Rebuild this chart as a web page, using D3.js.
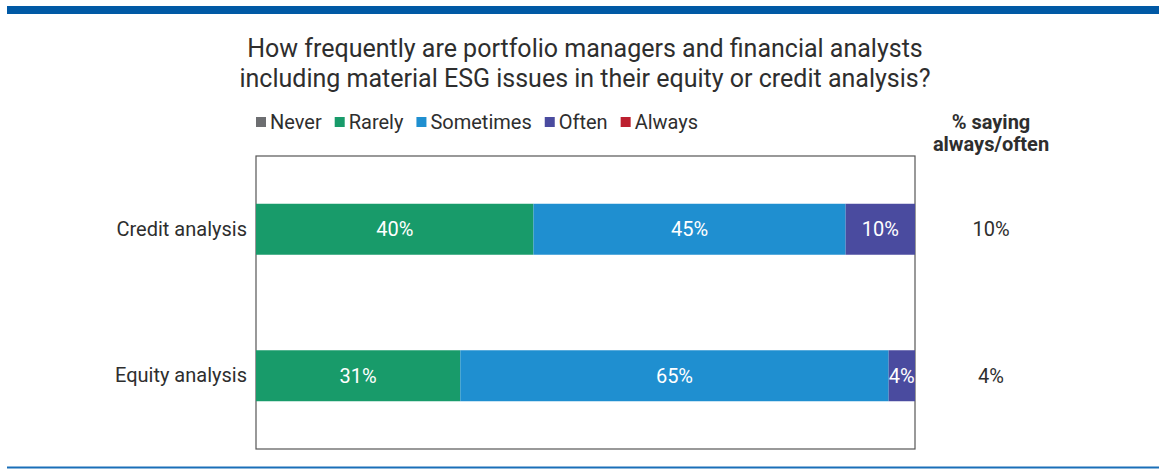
<!DOCTYPE html>
<html lang="en">
<head>
<meta charset="UTF-8">
<title>ESG issues in equity or credit analysis</title>
<script src="https://d3js.org/d3.v7.min.js"></script>
<style>
  body { margin: 0; padding: 0; background: #fff; }
  svg { display: block; font-family: Roboto, "DejaVu Sans", sans-serif; }
</style>
</head>
<body>
<svg width="1159" height="469"></svg>
<script>
const width = 1159, height = 469;

// data
const categories = ["Credit analysis", "Equity analysis"];
const seriesNames = ["Never", "Rarely", "Sometimes", "Often", "Always"];
const never = [0, 0];
const rarely = [40, 31];
const sometimes = [45, 65];
const often = [10, 4];
const always = [0, 0];
const colors = ["#6d6e71", "#189b6a", "#1f8fd0", "#4a4b9f", "#bc1f2f"];
const titleLines = [
  "How frequently are portfolio managers and financial analysts",
  "including material ESG issues in their equity or credit analysis?"
];
const sideHeader = ["% saying", "always/often"];

const rows = categories.map((c, i) => ({
  category: c,
  Never: never[i], Rarely: rarely[i], Sometimes: sometimes[i],
  Often: often[i], Always: always[i]
}));

const svg = d3.select("svg");
const textColor = "#2e2e2e";

// blue rules top and bottom
svg.append("rect").attr("x", 7).attr("y", 6).attr("width", width - 7).attr("height", 8).attr("fill", "#0059a5");
svg.append("rect").attr("x", 7).attr("y", 466.5).attr("width", width - 7).attr("height", 2).attr("fill", "#1a6fb8");

// title
svg.append("text")
  .attr("text-anchor", "middle")
  .attr("fill", textColor)
  .style("font-size", "25px")
  .selectAll("tspan")
  .data(titleLines)
  .enter().append("tspan")
  .attr("x", 585)
  .attr("y", (d, i) => 57 + i * 30)
  .text(d => d);

const plot = { left: 256, right: 915, top: 156, bottom: 449 };

const x = d3.scaleLinear().domain([0, 1]).range([plot.left, plot.right]);
const y = d3.scaleBand().domain(categories)
  .range([plot.top, plot.bottom])
  .paddingInner(0.652).paddingOuter(0.326);
const color = d3.scaleOrdinal().domain(seriesNames).range(colors);

// each bar fills the full width
const stacked = d3.stack().keys(seriesNames).offset(d3.stackOffsetExpand)(rows);

// plot frame
svg.append("rect")
  .attr("x", plot.left).attr("y", plot.top)
  .attr("width", plot.right - plot.left).attr("height", plot.bottom - plot.top)
  .attr("fill", "none").attr("stroke", "#555").attr("stroke-width", 1.2);

const layer = svg.selectAll("g.layer")
  .data(stacked)
  .enter().append("g")
  .attr("class", "layer")
  .attr("fill", d => color(d.key));

layer.selectAll("rect")
  .data(d => d.map(v => Object.assign(v, { key: d.key })))
  .enter().append("rect")
  .attr("x", d => x(d[0]))
  .attr("y", d => y(d.data.category))
  .attr("width", d => x(d[1]) - x(d[0]))
  .attr("height", y.bandwidth());

layer.selectAll("text")
  .data(d => d.filter(v => v.data[d.key] > 0))
  .enter().append("text")
  .attr("x", d => (x(d[0]) + x(d[1])) / 2)
  .attr("y", d => y(d.data.category) + y.bandwidth() / 2)
  .attr("dy", "0.35em")
  .attr("text-anchor", "middle")
  .attr("fill", "#fff")
  .style("font-size", "20px")
  .text(d => d.data[d.key] + "%");

// category axis
const yAxis = svg.append("g")
  .attr("transform", `translate(${plot.left},0)`)
  .call(d3.axisLeft(y).tickSize(0).tickPadding(9));
yAxis.select(".domain").remove();
yAxis.selectAll("text").attr("fill", textColor).style("font-size", "20px").style("font-family", "Roboto, sans-serif");

// legend
const legend = svg.append("g").attr("transform", "translate(256,122)");
let lx = 0;
seriesNames.forEach((name, i) => {
  const g = legend.append("g").attr("transform", `translate(${lx},0)`);
  g.append("rect").attr("x", 0).attr("y", -5).attr("width", 10).attr("height", 10).attr("fill", colors[i]);
  const t = g.append("text").attr("x", 14).attr("dy", "0.35em")
    .attr("fill", textColor).style("font-size", "20px").text(name);
  lx += 14 + t.node().getComputedTextLength() + 13;
});

// right column: % saying always/often
const sideX = 991;
svg.append("text")
  .attr("text-anchor", "middle")
  .attr("fill", textColor)
  .style("font-size", "20px").style("font-weight", "bold")
  .selectAll("tspan")
  .data(sideHeader)
  .enter().append("tspan")
  .attr("x", sideX)
  .attr("y", (d, i) => 129 + i * 22)
  .text(d => d);

svg.selectAll("text.side")
  .data(rows)
  .enter().append("text")
  .attr("class", "side")
  .attr("x", sideX)
  .attr("y", d => y(d.category) + y.bandwidth() / 2)
  .attr("dy", "0.35em")
  .attr("text-anchor", "middle")
  .attr("fill", textColor)
  .style("font-size", "20px")
  .text(d => (d.Often + d.Always) + "%");
</script>
</body>
</html>
